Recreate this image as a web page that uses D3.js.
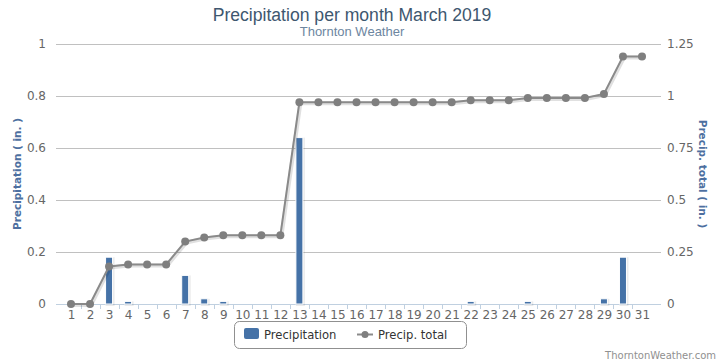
<!DOCTYPE html>
<html>
<head>
<meta charset="utf-8">
<script src="https://cdn.jsdelivr.net/npm/d3@7"></script>
<style>
  body { margin: 0; background: #fff; }
  svg { display: block; }
</style>
</head>
<body>
<svg width="720" height="363"></svg>
<script>
const days = d3.range(1, 32);
const precip = [0, 0, 0.18, 0.01, 0, 0, 0.11, 0.02, 0.01, 0, 0, 0, 0.64, 0, 0, 0, 0, 0, 0, 0, 0, 0.01, 0, 0, 0.01, 0, 0, 0, 0.02, 0.18, 0];
const total = [0, 0, 0.18, 0.19, 0.19, 0.19, 0.30, 0.32, 0.33, 0.33, 0.33, 0.33, 0.97, 0.97, 0.97, 0.97, 0.97, 0.97, 0.97, 0.97, 0.97, 0.98, 0.98, 0.98, 0.99, 0.99, 0.99, 0.99, 1.01, 1.19, 1.19];
const leftTicks = [0, 0.2, 0.4, 0.6, 0.8, 1];
const rightTicks = [0, 0.25, 0.5, 0.75, 1, 1.25];

const svg = d3.select("svg");
const font = "'DejaVu Sans', Verdana, sans-serif";
const plot = {left: 56, right: 661, top: 44, bottom: 304};

const x = d3.scaleLinear().domain([1, 31]).range([71, 642]);
const yL = d3.scaleLinear().domain([0, 1]).range([plot.bottom, plot.top]);
const yR = d3.scaleLinear().domain([0, 1.25]).range([plot.bottom, plot.top]);

// title
svg.append("text")
	.attr("x", 352).attr("y", 20.5)
	.attr("text-anchor", "middle")
	.attr("font-family", "'Liberation Sans', Arial, sans-serif")
	.attr("font-size", 17.6)
	.attr("fill", "#3E576F")
	.text("Precipitation per month March 2019");
svg.append("text")
	.attr("x", 352).attr("y", 36)
	.attr("text-anchor", "middle")
	.attr("font-family", "'Liberation Sans', Arial, sans-serif")
	.attr("font-size", 13)
	.attr("fill", "#6D869F")
	.text("Thornton Weather");

// grid lines
svg.append("g")
	.selectAll("line")
	.data(leftTicks.filter(d => d > 0))
	.enter()
	.append("line")
		.attr("x1", plot.left).attr("x2", plot.right)
		.attr("y1", d => Math.round(yL(d)) + 0.5)
		.attr("y2", d => Math.round(yL(d)) + 0.5)
		.attr("stroke", "#C0C0C0")

// left axis labels
const leftAxis = svg.append("g")
	.attr("transform", `translate(${plot.left},0)`)
	.call(d3.axisLeft(yL).tickValues(leftTicks).tickSize(0).tickPadding(10).tickFormat(d3.format("~g")));
leftAxis.select(".domain").remove();
leftAxis.selectAll("text").attr("font-family", font).attr("font-size", 12).attr("fill", "#666");

// right axis labels
const rightAxis = svg.append("g")
	.attr("transform", `translate(${plot.right},0)`)
	.call(d3.axisRight(yR).tickValues(rightTicks).tickSize(0).tickPadding(6).tickFormat(d3.format("~g")));
rightAxis.select(".domain").remove();
rightAxis.selectAll("text").attr("font-family", font).attr("font-size", 12).attr("fill", "#666");

// axis titles
svg.append("text")
	.attr("transform", `translate(21,${(plot.top + plot.bottom) / 2}) rotate(-90)`)
	.attr("text-anchor", "middle")
	.attr("font-family", font)
	.attr("font-size", 10.5)
	.attr("font-weight", "bold")
	.attr("fill", "#4D6FA0")
	.text("Precipitation ( in. )");
svg.append("text")
	.attr("transform", `translate(699,${(plot.top + plot.bottom) / 2}) rotate(90)`)
	.attr("text-anchor", "middle")
	.attr("font-family", font)
	.attr("font-size", 10.5)
	.attr("font-weight", "bold")
	.attr("fill", "#4D6FA0")
	.text("Precip. total ( in. )");

// x axis
const xAxis = svg.append("g")
	.attr("transform", `translate(0,${plot.bottom})`)
	.call(d3.axisBottom(x).tickValues(days).tickSize(0).tickPadding(6).tickFormat(d3.format("d")));
xAxis.select(".domain").remove();
xAxis.selectAll("text").attr("font-family", font).attr("font-size", 12).attr("fill", "#666");
svg.append("line")
	.attr("x1", plot.left).attr("x2", plot.right)
	.attr("y1", plot.bottom + 0.5).attr("y2", plot.bottom + 0.5)
	.attr("stroke", "#C0D0E0");
svg.append("g")
	.selectAll("line")
	.data(days.slice(0, 30))
	.enter()
	.append("line")
		.attr("x1", d => Math.round(x(d + 0.5)) + 0.5)
		.attr("x2", d => Math.round(x(d + 0.5)) + 0.5)
		.attr("y1", plot.bottom).attr("y2", plot.bottom + 5)
		.attr("stroke", "#C0D0E0")

// bars
const barW = 7;
const bars = svg.append("g");
bars.selectAll("rect.shadow")
	.data(days.filter((d, i) => precip[i] > 0))
	.enter()
	.append("rect")
		.attr("class", "shadow")
		.attr("x", d => x(d) - barW / 2 + 1)
		.attr("y", d => yL(precip[d - 1]) + 1)
		.attr("width", barW)
		.attr("height", d => plot.bottom - yL(precip[d - 1]))
		.attr("fill", "none")
		.attr("stroke", "rgba(0,0,0,0.08)")
		.attr("stroke-width", 2)
bars.selectAll("rect.bar")
	.data(days.filter((d, i) => precip[i] > 0))
	.enter()
	.append("rect")
		.attr("class", "bar")
		.attr("x", d => x(d) - barW / 2)
		.attr("y", d => yL(precip[d - 1]))
		.attr("width", barW)
		.attr("height", d => plot.bottom - yL(precip[d - 1]))
		.attr("fill", "#4572A7")
		.attr("stroke", "#fff")
		.attr("stroke-width", 1)

// cumulative line
const line = d3.line()
	.x((d, i) => x(days[i]))
	.y(d => yR(d));
svg.append("path")
	.datum(total)
	.attr("d", line)
	.attr("transform", "translate(1,1)")
	.attr("fill", "none")
	.attr("stroke", "rgba(0,0,0,0.12)")
	.attr("stroke-width", 4)
svg.append("path")
	.datum(total)
	.attr("d", line)
	.attr("fill", "none")
	.attr("stroke", "#8A8A8A")
	.attr("stroke-width", 2)
svg.append("g")
	.selectAll("circle")
	.data(total)
	.enter()
	.append("circle")
		.attr("cx", (d, i) => x(days[i]))
		.attr("cy", d => yR(d))
		.attr("r", 4)
		.attr("fill", "#7F7F7F")

// legend
const legend = svg.append("g");
legend.append("rect")
	.attr("x", 234.5).attr("y", 321.5)
	.attr("width", 232).attr("height", 27)
	.attr("rx", 5)
	.attr("fill", "#fff")
	.attr("stroke", "#909090");
legend.append("rect")
	.attr("x", 244).attr("y", 328)
	.attr("width", 15).attr("height", 11)
	.attr("rx", 2)
	.attr("fill", "#4572A7");
legend.append("text")
	.attr("x", 264).attr("y", 339)
	.attr("font-family", font).attr("font-size", 11.6).attr("fill", "#333")
	.text("Precipitation");
legend.append("line")
	.attr("x1", 357).attr("x2", 373)
	.attr("y1", 334.5).attr("y2", 334.5)
	.attr("stroke", "#8A8A8A").attr("stroke-width", 2);
legend.append("circle")
	.attr("cx", 365).attr("cy", 334.5).attr("r", 3.5)
	.attr("fill", "#7F7F7F");
legend.append("text")
	.attr("x", 378).attr("y", 339)
	.attr("font-family", font).attr("font-size", 11.6).attr("fill", "#333")
	.text("Precip. total");

// credit
svg.append("text")
	.attr("x", 716).attr("y", 359)
	.attr("text-anchor", "end")
	.attr("font-family", font).attr("font-size", 10).attr("fill", "#909090")
	.text("ThorntonWeather.com");
</script>
</body>
</html>
